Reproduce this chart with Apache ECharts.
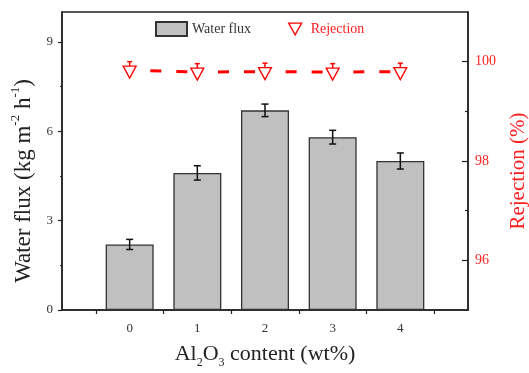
<!DOCTYPE html>
<html>
<head>
<meta charset="utf-8">
<script src="https://cdn.jsdelivr.net/npm/echarts@6/dist/echarts.min.js"></script>
<style>html,body{margin:0;padding:0;background:#fff}#c{width:529px;height:373px}</style>
</head>
<body>
<div id="c"></div>
<script>
// Data
const categories = [0, 1, 2, 3, 4];               // Al2O3 content (wt%)
const waterFlux = [2.2, 4.6, 6.7, 5.8, 5.0];
const waterFluxErr = [0.17, 0.24, 0.21, 0.23, 0.27];
const rejection = [99.83, 99.79, 99.8, 99.79, 99.8];
const rejectionErr = [0.17, 0.17, 0.17, 0.17, 0.17];
const fluxTicks = [0, 3, 6, 9];
const fluxMinorTicks = [1.5, 4.5, 7.5];
const rejTicks = [96, 98, 100];
const rejMinorTicks = [97, 99];
const xLabelTicks = [0, 1, 2, 3, 4];
const xMinorTicks = [-0.5, 0.5, 1.5, 2.5, 3.5, 4.5];

const FONT = 'Liberation Serif';
const AX = '#222';

const chart = echarts.init(document.getElementById('c'), null, {renderer: 'canvas'});

function errRender(color, cap, upperOnly) {
  return function (params, api) {
    const x = api.value(0), y = api.value(1), e = api.value(2);
    const t = api.coord([x, y + e]);
    const b = api.coord([x, upperOnly ? y : y - e]);
    const st = {stroke: color, lineWidth: 1.5, fill: null};
    const children = [
      {type: 'line', shape: {x1: t[0], y1: t[1], x2: b[0], y2: b[1]}, style: st},
      {type: 'line', shape: {x1: t[0] - cap, y1: t[1], x2: t[0] + cap, y2: t[1]}, style: st}
    ];
    if (!upperOnly) {
      children.push({type: 'line', shape: {x1: b[0] - cap, y1: b[1], x2: b[0] + cap, y2: b[1]}, style: st});
    }
    return {type: 'group', children: children};
  };
}

const option = {
  animation: false,
  backgroundColor: '#fff',
  grid: {left: 62, right: 61, top: 12, bottom: 63, outerBoundsMode: 'none', containLabel: false,
         show: true, borderColor: AX, borderWidth: 1.5, backgroundColor: 'transparent'},
  legend: [
    {
      data: [{name: 'Water flux', icon: 'rect'}],
      left: 150, top: 16, itemWidth: 31, itemHeight: 14,
      textStyle: {fontFamily: FONT, fontSize: 14, color: '#333'}
    },
    {
      data: [{name: 'Rejection', icon: 'path://M0,0L10,0L5,9Z', itemStyle: {color: '#fff', borderColor: '#ff0000', borderWidth: 1.3}}],
      left: 283, top: 17, itemWidth: 13, itemHeight: 12,
      textStyle: {fontFamily: FONT, fontSize: 14, color: '#ff2020', padding: [0, 0, 0, 4]}
    }
  ],
  xAxis: {
    type: 'value', min: -1, max: 5,
    name: '{a|Al}{b|2}{a|O}{b|3}{a| content (wt%)}',
    nameLocation: 'middle', nameGap: 33,
    nameTextStyle: {
      rich: {
        a: {fontFamily: FONT, fontSize: 22, color: '#222', lineHeight: 26, verticalAlign: 'top'},
        b: {fontFamily: FONT, fontSize: 12, color: '#222', lineHeight: 12, verticalAlign: 'bottom'}
      }
    },
    axisLine: {show: true, onZero: false, lineStyle: {color: AX, width: 1.5}},
    axisTick: {show: true, inside: false, length: 4, customValues: xMinorTicks, lineStyle: {color: AX, width: 1.2}},
    axisLabel: {customValues: xLabelTicks, margin: 12, fontFamily: FONT, fontSize: 13, color: '#333'},
    splitLine: {show: false}
  },
  yAxis: [
    {
      type: 'value', min: 0, max: 10, position: 'left',
      name: '{a|Water flux (kg m}{s|-2}{a| h}{s|-1}{a|)}',
      nameLocation: 'middle', nameGap: 27, nameRotate: 90,
      nameTextStyle: {
        padding: [0, 40, 0, 0],
        rich: {
          a: {fontFamily: FONT, fontSize: 23, color: '#222', lineHeight: 26, verticalAlign: 'bottom'},
          s: {fontFamily: FONT, fontSize: 13, color: '#222', lineHeight: 13, verticalAlign: 'top'}
        }
      },
      axisLine: {show: true, onZero: false, lineStyle: {color: AX, width: 1.5}},
      axisTick: {show: true, inside: false, length: 4, customValues: fluxTicks, lineStyle: {color: AX, width: 1.2}},
      axisLabel: {customValues: fluxTicks, margin: 9, fontFamily: FONT, fontSize: 13, color: '#333'},
      splitLine: {show: false}
    },
    {
      type: 'value', min: 95, max: 101, position: 'right',
      name: 'Rejection (%)',
      nameLocation: 'middle', nameGap: 40, nameRotate: 90,
      nameTextStyle: {fontFamily: FONT, fontSize: 21, color: '#ff2020', padding: [0, 20, 0, 0]},
      axisLine: {show: true, onZero: false, lineStyle: {color: AX, width: 1.5}},
      axisTick: {show: true, inside: true, length: 6, customValues: rejTicks, lineStyle: {color: AX, width: 1.2}},
      axisLabel: {customValues: rejTicks, margin: 7, fontFamily: FONT, fontSize: 14, color: '#ff2020'},
      splitLine: {show: false}
    },
    {
      type: 'value', min: 0, max: 10, position: 'left',
      axisLine: {show: false, onZero: false},
      axisTick: {show: true, inside: false, length: 2, customValues: fluxMinorTicks, lineStyle: {color: AX, width: 1.2}},
      axisLabel: {show: false},
      splitLine: {show: false}
    },
    {
      type: 'value', min: 95, max: 101, position: 'right',
      axisLine: {show: false, onZero: false},
      axisTick: {show: true, inside: true, length: 3, customValues: rejMinorTicks, lineStyle: {color: AX, width: 1.2}},
      axisLabel: {show: false},
      splitLine: {show: false}
    }
  ],
  series: [
    {
      name: 'Water flux', type: 'bar', yAxisIndex: 0, barWidth: 48,
      data: categories.map((c, i) => [c, waterFlux[i]]),
      itemStyle: {color: '#c0c0c0', borderColor: '#333', borderWidth: 1.3},
      z: 2
    },
    {
      name: 'fluxErr', type: 'custom', yAxisIndex: 0,
      renderItem: errRender('#111', 3.5, false),
      encode: {x: 0, y: 1},
      data: categories.map((c, i) => [c, waterFlux[i], waterFluxErr[i]]),
      z: 3
    },
    {
      name: 'rejErr', type: 'custom', yAxisIndex: 1,
      renderItem: errRender('#ff0000', 2.5, true),
      encode: {x: 0, y: 1},
      data: categories.map((c, i) => [c, rejection[i], rejectionErr[i]]),
      z: 4
    },
    {
      name: 'Rejection', type: 'line', yAxisIndex: 1,
      data: categories.map((c, i) => [c, rejection[i]]),
      symbol: 'triangle', symbolRotate: 180, symbolSize: [13, 12], symbolOffset: [0, 2],
      itemStyle: {color: '#fff', borderColor: '#ff0000', borderWidth: 1.3},
      lineStyle: {color: '#ff0000', width: 3, type: [11, 15, 11, 30.67], dashOffset: 47},
      z: 5
    }
  ]
};
chart.setOption(option);
</script>
</body>
</html>
